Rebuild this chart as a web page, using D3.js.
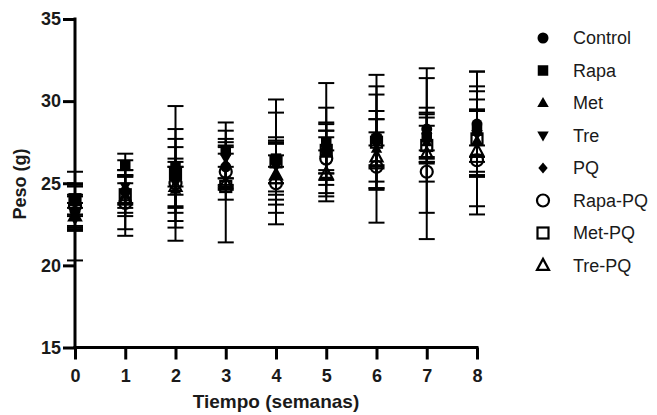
<!DOCTYPE html>
<html><head><meta charset="utf-8">
<script src="https://cdn.jsdelivr.net/npm/d3@7"></script>
<style>body{margin:0;background:#fff}svg{display:block}text{font-family:"Liberation Sans",Arial,sans-serif}</style>
</head><body><svg id="c" width="657" height="415"></svg>
<script>
const weeks = [0,1,2,3,4,5,6,7,8];
const seriesNames = ["Control","Rapa","Met","Tre","PQ","Rapa-PQ","Met-PQ","Tre-PQ"];
const symbols = ["circle","square","triangle","triangleDown","diamond","circleOpen","squareOpen","triangleOpen"];
const meanControl = [23.3,24.5,25.5,26.0,26.3,27.0,27.8,28.3,28.6];
const sdControl   = [1.0,1.0,2.8,1.3,3.8,2.6,3.1,1.3,3.2];
const meanRapa    = [24.0,26.1,26.0,27.0,26.5,27.5,27.7,27.8,28.2];
const sdRapa      = [0.9,0.7,1.2,1.7,2.8,3.6,1.7,1.2,1.9];
const meanMet     = [23.0,24.3,24.6,26.2,25.5,26.8,27.1,27.5,27.6];
const sdMet       = [0.8,2.1,1.4,1.3,2.3,1.9,4.5,1.0,1.9];
const meanTre     = [22.8,24.8,25.0,26.5,26.0,27.1,27.5,27.8,28.0];
const sdTre       = [0.7,1.0,2.7,1.2,1.5,1.5,2.9,1.5,2.6];
const meanPQ      = [23.2,24.6,25.3,26.0,26.2,26.9,27.4,27.7,28.0];
const sdPQ        = [1.0,0.9,1.0,1.2,1.2,1.3,1.5,1.5,1.4];
const meanRapaPQ  = [23.6,23.8,25.0,25.7,25.0,26.5,26.0,25.7,26.4];
const sdRapaPQ    = [1.2,2.0,1.5,1.1,1.0,1.3,1.3,0.6,0.9];
const meanMetPQ   = [24.0,24.3,25.6,24.8,26.3,27.0,27.5,27.3,27.7];
const sdMetPQ     = [1.0,1.1,4.1,3.4,1.3,1.2,1.4,4.1,4.1];
const meanTrePQ   = [23.0,24.0,24.8,25.0,25.5,25.6,26.6,26.8,27.0];
const sdTrePQ     = [2.7,1.0,1.2,1.0,1.2,1.4,1.5,5.2,3.9];
const allMeans = [meanControl,meanRapa,meanMet,meanTre,meanPQ,meanRapaPQ,meanMetPQ,meanTrePQ];
const allSds = [sdControl,sdRapa,sdMet,sdTre,sdPQ,sdRapaPQ,sdMetPQ,sdTrePQ];
const yTicks = [15,20,25,30,35];

const svg = d3.select("#c");
const x = d3.scaleLinear().domain([0,8]).range([75,477]);
const y = d3.scaleLinear().domain([15,35]).range([347.5,19]);

// axes
const xAxis = svg.append("g").attr("transform","translate(0,347.5)")
  .call(d3.axisBottom(x).tickValues(weeks).tickFormat(d3.format("d")).tickSizeInner(12).tickSizeOuter(0).tickPadding(10));
const yAxis = svg.append("g").attr("transform","translate(75,0)")
  .call(d3.axisLeft(y).tickValues(yTicks).tickSizeInner(12).tickSizeOuter(0).tickPadding(2));
[xAxis,yAxis].forEach(g=>{
  g.attr("font-size",null).attr("font-family",null);
  g.select(".domain").attr("stroke","#000").attr("stroke-width",3);
  g.selectAll(".tick line").attr("stroke","#000").attr("stroke-width",3);
  g.selectAll(".tick text").attr("fill","#1a1a1a").attr("font-size",18).style("font-size","18px").style("font-weight","bold");
});
yAxis.select(".domain").attr("d","M0,17.5V349");
xAxis.select(".domain").attr("d","M73.5,0H478.5");

svg.append("text").attr("x",276).attr("y",408).attr("text-anchor","middle")
  .style("font-size","19px").style("font-weight","bold").attr("fill","#1a1a1a").text("Tiempo (semanas)");
svg.append("text").attr("transform","translate(26,184) rotate(-90)").attr("text-anchor","middle")
  .style("font-size","18px").style("font-weight","bold").attr("fill","#1a1a1a").text("Peso (g)");

// symbol drawing
function drawSymbol(g, type, cx, cy){
  const filled = !type.endsWith("Open");
  const t = type.replace("Open","");
  let sh;
  if(t==="circle"){
    sh = g.append("circle").attr("cx",cx).attr("cy",cy).attr("r", filled?5.5:6);
  } else if(t==="square"){
    const s = filled?10.5:11;
    sh = g.append("rect").attr("x",cx-s/2).attr("y",cy-s/2).attr("width",s).attr("height",s);
  } else if(t==="triangle"){
    const h = filled?10:11, w = filled?11.5:12;
    sh = g.append("path").attr("d",`M${cx},${cy-h*0.6}L${cx+w/2},${cy+h*0.4}L${cx-w/2},${cy+h*0.4}Z`);
  } else if(t==="triangleDown"){
    const h=10, w=11.5;
    sh = g.append("path").attr("d",`M${cx},${cy+h*0.6}L${cx+w/2},${cy-h*0.4}L${cx-w/2},${cy-h*0.4}Z`);
  } else if(t==="diamond"){
    const r=5.5;
    sh = g.append("path").attr("d",`M${cx},${cy-r}L${cx+r*0.85},${cy}L${cx},${cy+r}L${cx-r*0.85},${cy}Z`);
  }
  if(filled) sh.attr("fill","#000").attr("stroke","none");
  else sh.attr("fill","none").attr("stroke","#000").attr("stroke-width",2.2);
}

// error bars
const eb = svg.append("g");
allMeans.forEach((m,si)=>{
  const sd = allSds[si];
  weeks.forEach((w,i)=>{
    const cx = x(w), top = y(m[i]+sd[i]), bot = y(m[i]-sd[i]);
    eb.append("line").attr("x1",cx).attr("x2",cx).attr("y1",top).attr("y2",bot).attr("stroke","#000").attr("stroke-width",2);
    [top,bot].forEach(v=>eb.append("line").attr("x1",cx-8).attr("x2",cx+8).attr("y1",v).attr("y2",v).attr("stroke","#000").attr("stroke-width",2));
  });
});
// markers
const mk = svg.append("g");
allMeans.forEach((m,si)=>{
  weeks.forEach((w,i)=>drawSymbol(mk, symbols[si], x(w), y(m[i])));
});

// legend
const lg = svg.append("g");
seriesNames.forEach((n,i)=>{
  const ly = 38 + i*32.5;
  drawSymbol(lg, symbols[i], 543, ly);
  lg.append("text").attr("x",573).attr("y",ly+6).style("font-size","18px").attr("fill","#1a1a1a").text(n);
});
</script></body></html>
